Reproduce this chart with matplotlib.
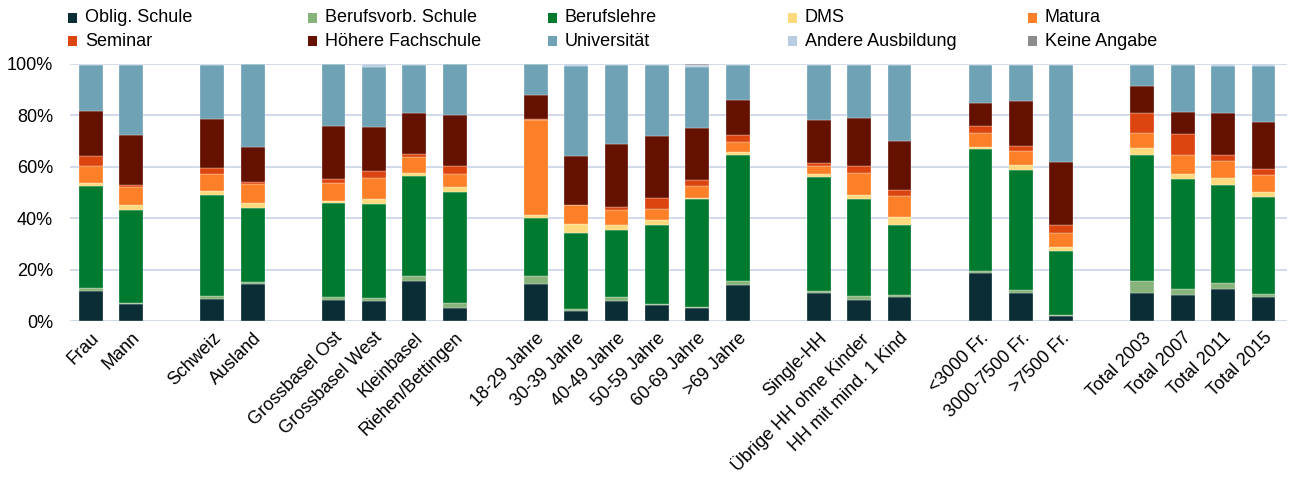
import numpy as np
import matplotlib.pyplot as plt
from matplotlib.patches import Rectangle

plt.rcParams["font.family"] = ["Liberation Sans", "DejaVu Sans"]

# bar groups, separated by one empty slot each
groups = [
    ["Frau", "Mann"],
    ["Schweiz", "Ausland"],
    ["Grossbasel Ost", "Grossbasel West", "Kleinbasel", "Riehen/Bettingen"],
    ["18-29 Jahre", "30-39 Jahre", "40-49 Jahre", "50-59 Jahre", "60-69 Jahre", ">69 Jahre"],
    ["Single-HH", "Übrige HH ohne Kinder", "HH mit mind. 1 Kind"],
    ["<3000 Fr.", "3000-7500 Fr.", ">7500 Fr."],
    ["Total 2003", "Total 2007", "Total 2011", "Total 2015"],
]

# shares in percent, one value per bar (same order as groups)
oblig_schule = [11.7, 6.5, 8.7, 14.5, 8.3, 7.9, 15.7, 5.2, 14.4, 4.0, 7.9, 6.2, 5.2, 14.1,
                11.0, 8.2, 9.5, 18.8, 11.0, 2.1, 11.0, 10.1, 12.6, 9.2]
berufsvorb = [1.3, 0.6, 1.2, 0.8, 1.0, 0.9, 1.8, 1.8, 3.2, 0.9, 1.6, 0.3, 0.3, 1.6,
              0.8, 1.4, 0.6, 0.6, 1.0, 0.4, 4.6, 2.2, 2.3, 1.2]
berufslehre = [39.7, 36.2, 39.3, 28.7, 36.5, 36.6, 39.0, 43.3, 22.6, 29.3, 26.0, 30.9, 41.8, 49.0,
               44.4, 38.0, 27.4, 47.4, 46.9, 24.9, 49.0, 42.8, 37.9, 38.0]
dms = [1.1, 1.8, 1.4, 1.9, 1.0, 2.1, 1.0, 1.8, 1.0, 3.4, 1.9, 2.0, 0.7, 1.2,
       0.9, 1.4, 2.8, 0.9, 1.7, 1.3, 2.6, 2.1, 2.7, 1.8]
matura = [6.6, 7.2, 6.7, 7.5, 7.0, 8.1, 6.2, 5.1, 37.1, 7.5, 5.9, 4.2, 4.5, 3.9,
          3.0, 8.5, 8.5, 5.5, 5.4, 5.5, 6.0, 7.4, 6.8, 6.6]
seminar = [3.7, 0.8, 2.2, 0.7, 1.6, 2.8, 1.3, 2.9, 0.2, 0.1, 1.1, 4.1, 2.4, 2.4,
           1.2, 2.6, 2.0, 2.7, 2.1, 3.0, 7.5, 8.0, 2.3, 2.2]
hoehere_fs = [17.6, 19.2, 19.2, 13.5, 20.5, 17.2, 15.7, 19.9, 9.4, 19.1, 24.6, 24.2, 20.3, 13.7,
              16.9, 19.0, 19.2, 8.9, 17.5, 24.8, 10.7, 8.6, 16.1, 18.3]
universitaet = [17.7, 27.2, 20.7, 32.4, 24.1, 23.1, 19.0, 20.0, 12.1, 34.9, 30.4, 27.8, 23.6, 13.5,
                21.2, 20.3, 29.4, 14.6, 13.8, 37.7, 8.3, 18.5, 18.5, 21.9]
andere = [0.6, 0.6, 0.6, 0.0, 0.0, 1.3, 0.3, 0.0, 0.0, 0.8, 0.6, 0.3, 0.7, 0.6,
          0.6, 0.6, 0.6, 0.6, 0.6, 0.3, 0.3, 0.3, 0.8, 0.8]
keine_angabe = [0.0, 0.0, 0.0, 0.0, 0.0, 0.0, 0.0, 0.0, 0.0, 0.0, 0.0, 0.0, 0.5, 0.0,
                0.0, 0.0, 0.0, 0.0, 0.0, 0.0, 0.0, 0.0, 0.0, 0.0]

series = [
    ("Oblig. Schule", oblig_schule, "#0a2d36"),
    ("Berufsvorb. Schule", berufsvorb, "#86b47a"),
    ("Berufslehre", berufslehre, "#007a2f"),
    ("DMS", dms, "#ffd97d"),
    ("Matura", matura, "#fd7f28"),
    ("Seminar", seminar, "#dc4410"),
    ("Höhere Fachschule", hoehere_fs, "#641100"),
    ("Universität", universitaet, "#70a2b5"),
    ("Andere Ausbildung", andere, "#b8cce4"),
    ("Keine Angabe", keine_angabe, "#8c8c8c"),
]

labels, xpos = [], []
slot = 0
for g in groups:
    for name in g:
        labels.append(name)
        xpos.append(slot)
        slot += 1
    slot += 1
xpos = np.array(xpos)

fig = plt.figure(figsize=(12.93, 4.8), dpi=100)
ax = fig.add_axes([0.054, 0.331, 0.941, 0.536])

bottom = np.zeros(len(labels))
for name, vals, color in series:
    vals = np.array(vals)
    ax.bar(xpos, vals, width=0.59, bottom=bottom, color=color,
           edgecolor="white", linewidth=0.2, zorder=3)
    bottom += vals

ax.set_xlim(-0.52, 29.57)
ax.set_ylim(0, 100)
ax.set_yticks(np.arange(0, 101, 20))
ax.set_yticklabels([f"{v}%" for v in range(0, 101, 20)], fontsize=13)
ax.yaxis.grid(True, color="#c9d3e8", linewidth=1.2, zorder=0)
ax.set_axisbelow(True)
for s in ax.spines.values():
    s.set_visible(False)
ax.tick_params(axis="both", length=0)
ax.tick_params(axis="y", pad=12)

ax.set_xticks(xpos)
ax.set_xticklabels(labels, rotation=45, ha="right", rotation_mode="anchor", fontsize=13)
ax.tick_params(axis="x", pad=6)

# legend laid out on a fixed grid: 5 columns, 2 rows
for i, (name, _, color) in enumerate(series):
    col, row = i % 5, i // 5
    x0 = (68 + col * 240) / 1293
    yc = 1 - (18 + row * 23) / 480
    fig.patches.append(Rectangle((x0, yc - 5 / 480), 9 / 1293, 10 / 480,
                                 transform=fig.transFigure, facecolor=color,
                                 edgecolor="none"))
    fig.text(x0 + 17 / 1293, yc, name, fontsize=13, va="center", ha="left")

fig.savefig("out.png", dpi=100)
